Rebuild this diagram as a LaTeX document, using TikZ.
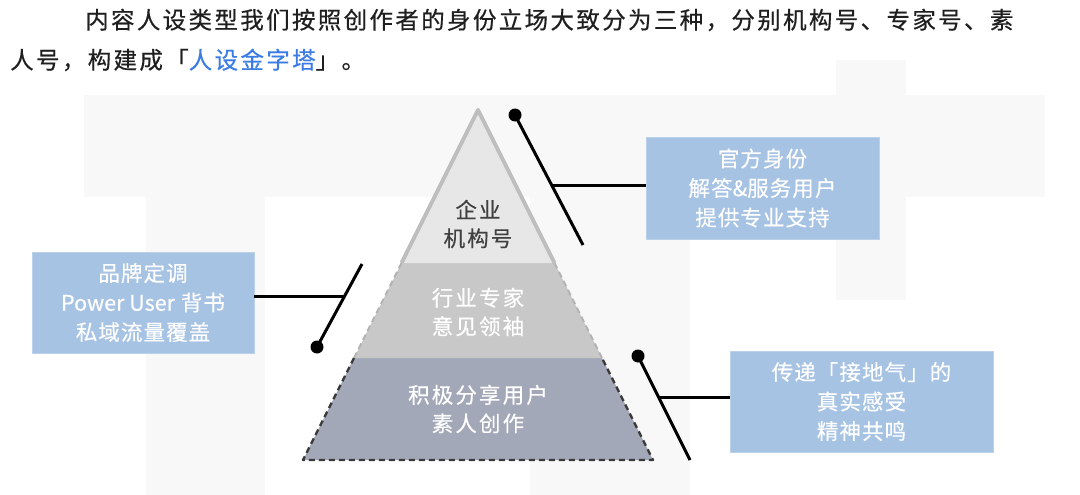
\documentclass[tikz,border=0pt]{standalone}
\usepackage{fontspec}
\newfontfamily\cjkh[LetterSpace=10,FakeBold=0.5]{Noto Sans CJK SC}
\newfontfamily\cjkb[LetterSpace=5,FakeBold=0.3]{Noto Sans CJK SC}
\newfontfamily\cjkp[LetterSpace=10,FakeBold=0.4]{Noto Sans CJK SC}
\newfontfamily\cjkl[FakeBold=0.3]{Noto Sans CJK SC}
\definecolor{boxblue}{HTML}{A7C3E3}
\definecolor{boxedge}{HTML}{BBD1EA}
\definecolor{linkblue}{HTML}{3A7CE4}
\definecolor{toptxt}{HTML}{404040}
\definecolor{layA}{HTML}{E7E7E7}
\definecolor{layAedge}{HTML}{BEBEBE}
\definecolor{layB}{HTML}{C8C8C8}
\definecolor{layBedge}{HTML}{B2B2B2}
\definecolor{layC}{HTML}{A3A8B9}
\definecolor{layCedge}{HTML}{3A3A3A}
\definecolor{wm}{HTML}{F8F8F8}
\tikzset{
  infobox/.style={fill=boxblue, draw=boxedge, line width=0.8pt, text=white, align=center, inner sep=0pt, font=\cjkb\fontsize{21.5}{29.5}\selectfont},
  pyrtext/.style={align=center, inner sep=0pt, font=\cjkp\fontsize{21.5}{28.5}\selectfont},
  headtext/.style={anchor=west, inner sep=0pt, font=\cjkh\fontsize{23.5}{25}\selectfont, text=black!88},
  link/.style={line width=3pt, black},
  dotend/.style={circle, fill=black, inner sep=0pt, minimum size=13pt},
}
\begin{document}
\begin{tikzpicture}[x=1pt,y=-1pt]
\useasboundingbox (0,0) rectangle (1080,495);
\fill[white] (0,0) rectangle (1080,495);
% faint watermark
\fill[wm] (84,95) rectangle (1045,197);
\fill[wm] (146,197) rectangle (265,495);
\fill[wm] (530,95) rectangle (690,495);
\fill[wm] (836,60) rectangle (906,300);
\fill[wm] (700,197) rectangle (836,240);
% heading
\node[headtext] (h1) at (85,20) {内容人设类型我们按照创作者的身份立场大致分为三种，分别机构号、专家号、素};
\node[headtext] (h2) at (10,60) {人号，构建成「\textcolor{linkblue}{人设金字塔}」。};
% pyramid layers
\coordinate (apex) at (478,110);
\coordinate (bl) at (303,460);
\coordinate (br) at (653,460);
\coordinate (l1) at (401.5,263);
\coordinate (r1) at (554.5,263);
\coordinate (l2) at (354,358);
\coordinate (r2) at (602,358);
\fill[layC] (l2) -- (r2) -- (br) -- (bl) -- cycle;
\fill[layB] (l1) -- (r1) -- (r2) -- (l2) -- cycle;
\draw[layBedge, line width=2pt, dash pattern=on 6pt off 4pt] (l1) -- (l2);
\draw[layBedge, line width=2pt, dash pattern=on 6pt off 4pt] (r1) -- (r2);
\draw[layCedge, line width=2.4pt, dash pattern=on 6pt off 4pt, line join=round] (l2) -- (bl) -- (br) -- (r2);
\fill[layA] (apex) -- (r1) -- (l1) -- cycle;
\draw[layAedge, line width=4pt, line join=round] (l1) -- (apex) -- (r1);
% pyramid texts
\node[pyrtext, text=toptxt] (t1) at (478,224) {企业\\机构号};
\node[pyrtext, text=white] (t2) at (478,312) {行业专家\\意见领袖};
\node[pyrtext, text=white] (t3) at (478,409) {积极分享用户\\素人创作};
% boxes
\node[infobox, minimum width=233pt, minimum height=102pt] (b1) at (762.5,188) {官方身份\\解答{\cjkl\&}服务用户\\提供专业支持};
\node[infobox, minimum width=222pt, minimum height=101pt] (b2) at (143,302.5) {品牌定调\\{\cjkl Power User} 背书\\私域流量覆盖};
\node[infobox, minimum width=263pt, minimum height=101pt] (b3) at (861.5,401.5) {传递「接地气」的\\真实感受\\精神共鸣};
% connectors
\node[dotend] (d1) at (515,115) {};
\coordinate (e1) at (583,245);
\coordinate (j1) at (551.6,185);
\draw[link] (d1.center) -- (e1);
\draw[link] (j1) -- (b1.west |- j1);
\node[dotend] (d2) at (317,347) {};
\coordinate (e2) at (362,264);
\coordinate (j2) at (344.7,296);
\draw[link] (d2.center) -- (e2);
\draw[link] (j2) -- (b2.east |- j2);
\node[dotend] (d3) at (638,356) {};
\coordinate (e3) at (690,460);
\coordinate (j3) at (658.5,397);
\draw[link] (d3.center) -- (e3);
\draw[link] (j3) -- (b3.west |- j3);
\end{tikzpicture}
\end{document}
